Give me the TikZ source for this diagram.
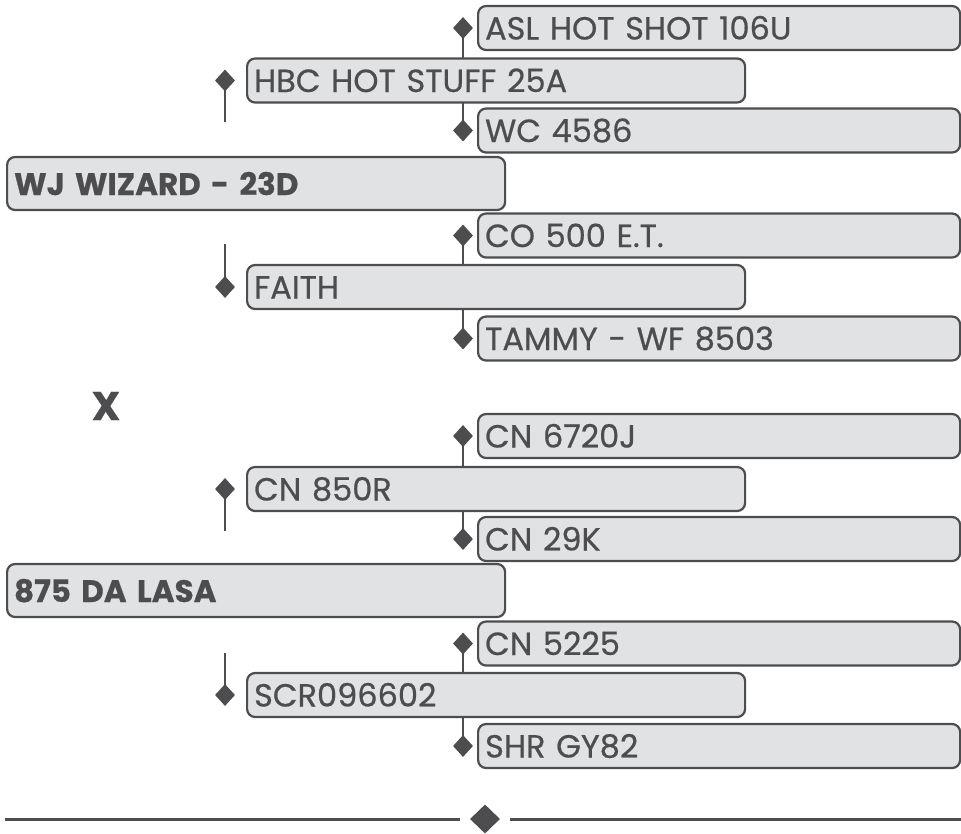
\documentclass[tikz,border=0pt]{standalone}
\usepackage{fontspec}
\setmainfont{Poppins}[RawFeature={embolden=0.6}]
\usetikzlibrary{shapes.geometric,backgrounds}
\definecolor{ink}{HTML}{4D4D4F}
\definecolor{boxfill}{HTML}{E1E2E4}
\tikzset{
  x=1pt, y=-1pt,
  basebox/.style={draw=ink, fill=boxfill, line width=2.2pt, rounded corners=8pt,
    anchor=west, inner xsep=7pt, inner ysep=0pt, align=left, text=ink,
    font=\fontsize{32}{34}\selectfont, text height=23pt, text depth=0pt},
  leafbox/.style={basebox, minimum width=482pt, text width=468pt, minimum height=44pt},
  midbox/.style={basebox, minimum width=498pt, text width=484pt, minimum height=44pt},
  rootbox/.style={basebox, minimum width=498pt, text width=484pt, minimum height=53pt,
    font=\fontsize{31}{33}\selectfont\bfseries},
  dia/.style={diamond, fill=ink, draw=none, inner sep=0pt, minimum width=20pt, minimum height=22pt},
  bigdia/.style={diamond, fill=ink, draw=none, inner sep=0pt, minimum width=30pt, minimum height=29pt},
  link/.style={draw=ink, line width=2pt},
  rule/.style={draw=ink, line width=3pt},
}
\begin{document}
\begin{tikzpicture}
\useasboundingbox (0,0) rectangle (961,833);

% ---- group 1 ----
\node[leafbox] (asl) at (477,28) {ASL HOT SHOT 106U};
\node[midbox] (hbc) at (246,80.5) {HBC HOT STUFF 25A};
\node[leafbox] (wc) at (477,130.5) {WC 4586};
\node[rootbox] (wj) at (6,183.5) {WJ WIZARD - 23D};
\node[leafbox] (co) at (477,235.5) {CO 500 E.T.};
\node[midbox] (faith) at (246,287) {FAITH};
\node[leafbox] (tammy) at (477,338.5) {TAMMY - WF 8503};

\node[dia] (dasl) at ([xshift=-14pt]asl.west) {};
\node[dia] (dwc) at ([xshift=-14pt]wc.west) {};
\node[dia] (dco) at ([xshift=-14pt]co.west) {};
\node[dia] (dtammy) at ([xshift=-14pt]tammy.west) {};
\node[dia] (dhbc) at ([xshift=-21pt]hbc.west) {};
\node[dia] (dfaith) at ([xshift=-21pt]faith.west) {};
\coordinate (s1) at (225,122);
\coordinate (s2) at (225,244);

% ---- X ----
\node[text=ink, font=\fontsize{40}{42}\selectfont\bfseries, inner sep=0pt] (cross) at (106,406) {X};

% ---- group 2 ----
\node[leafbox] (cn6720j) at (477,436) {CN 6720J};
\node[midbox] (cn850r) at (246,489) {CN 850R};
\node[leafbox] (cn29k) at (477,539) {CN 29K};
\node[rootbox] (dalasa) at (6,590.5) {875 DA LASA};
\node[leafbox] (cn5225) at (477,643.5) {CN 5225};
\node[midbox] (scr) at (246,695) {SCR096602};
\node[leafbox] (shr) at (477,746) {SHR GY82};

\node[dia] (dcn6720j) at ([xshift=-14pt]cn6720j.west) {};
\node[dia] (dcn29k) at ([xshift=-14pt]cn29k.west) {};
\node[dia] (dcn5225) at ([xshift=-14pt]cn5225.west) {};
\node[dia] (dshr) at ([xshift=-14pt]shr.west) {};
\node[dia] (dcn850r) at ([xshift=-21pt]cn850r.west) {};
\node[dia] (dscr) at ([xshift=-21pt]scr.west) {};
\coordinate (s3) at (225,531);
\coordinate (s4) at (225,653);

% ---- bottom rule ----
\node[bigdia] (bd) at (485,819) {};
\coordinate (rl) at (5,819);
\coordinate (rle) at (460,819);
\coordinate (rrs) at (510,819);
\coordinate (rr) at (961,819);

\begin{scope}[on background layer]
  \draw[link] (dasl.center) -- (dwc.center);
  \draw[link] (dco.center) -- (dtammy.center);
  \draw[link] (dhbc.center) -- (s1);
  \draw[link] (s2) -- (dfaith.center);
  \draw[link] (dcn6720j.center) -- (dcn29k.center);
  \draw[link] (dcn5225.center) -- (dshr.center);
  \draw[link] (dcn850r.center) -- (s3);
  \draw[link] (s4) -- (dscr.center);
  \draw[rule] (rl) -- (rle);
  \draw[rule] (rrs) -- (rr);
\end{scope}
\end{tikzpicture}
\end{document}
